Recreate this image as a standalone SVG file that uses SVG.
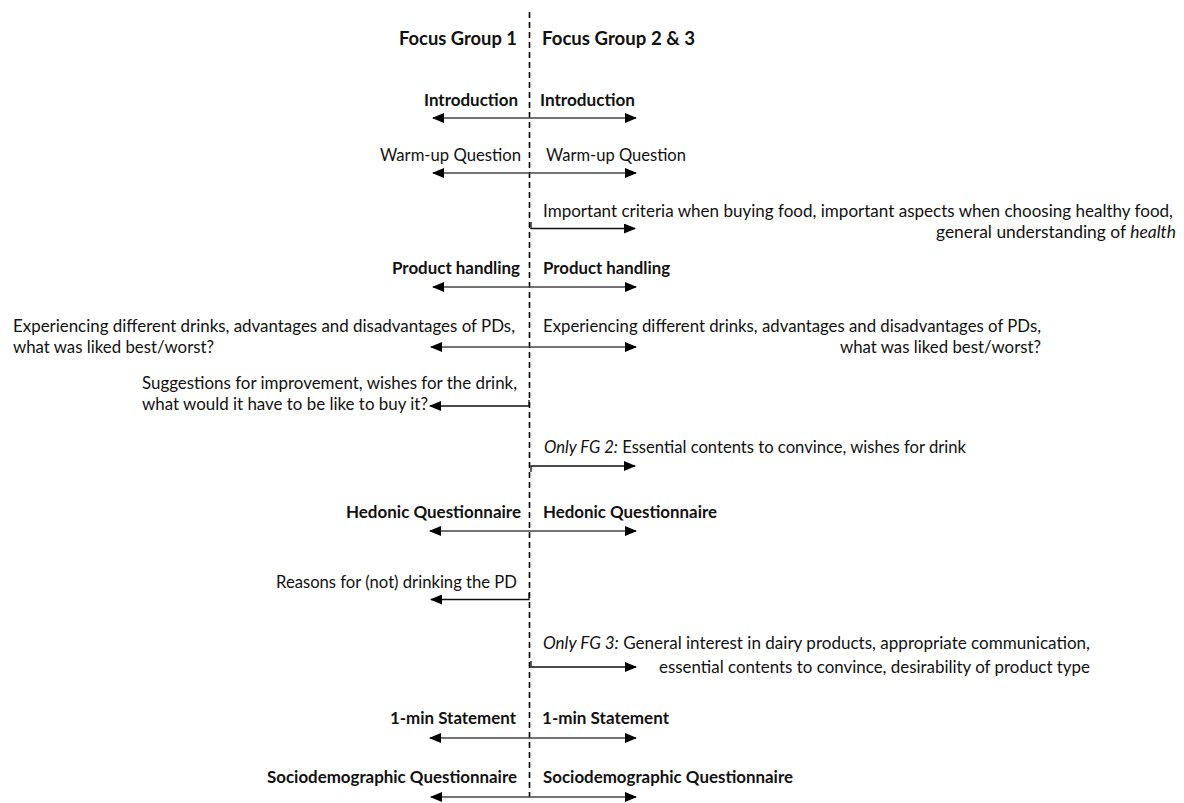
<svg xmlns="http://www.w3.org/2000/svg" width="1184" height="803" viewBox="0 0 1184 803">
<defs>
<marker id="ah" viewBox="0 0 12 10" refX="11" refY="5" markerWidth="12" markerHeight="10" markerUnits="userSpaceOnUse" orient="auto-start-reverse">
<path d="M0,0 L12,5 L0,10 Z" fill="#000"/>
</marker>
<style>
text{font-family:Lato,"Open Sans","Liberation Sans",sans-serif;font-size:17px;fill:#111}
.h{font-size:18.5px}
.b{font-weight:bold}
.i{font-style:italic}
.dbl{stroke:#444;stroke-width:1.6;fill:none;marker-start:url(#ah);marker-end:url(#ah)}
.one{stroke:#111;stroke-width:1.3;fill:none;marker-end:url(#ah)}
.axis{stroke:#000;stroke-width:1.6;stroke-dasharray:6 4;fill:none}
</style>
</defs>
<rect width="1184" height="803" fill="#fff"/>
<line id="divider" class="axis" x1="529.5" y1="12" x2="529.5" y2="797"/>
<g id="connectors">
<line class="dbl" x1="433" y1="118" x2="636" y2="118"/>
<line class="dbl" x1="433" y1="173" x2="636" y2="173"/>
<path class="one" d="M531,222 V228.5 H635"/>
<line class="dbl" x1="433" y1="287" x2="636" y2="287"/>
<line class="dbl" x1="431" y1="347" x2="636" y2="347"/>
<path class="one" d="M529,400 V406 H430"/>
<path class="one" d="M531,472 V466 H635"/>
<line class="dbl" x1="430" y1="531" x2="636" y2="531"/>
<path class="one" d="M529,593 V599.5 H431"/>
<path class="one" d="M531,661 V667 H636"/>
<line class="dbl" x1="430" y1="738" x2="636" y2="738"/>
<line class="dbl" x1="431" y1="797" x2="636" y2="797"/>
</g>
<g id="header">
<text class="b h" x="399" y="45" textLength="118" lengthAdjust="spacingAndGlyphs">Focus Group 1</text>
<text class="b h" x="542" y="45" textLength="153" lengthAdjust="spacingAndGlyphs">Focus Group 2 &amp; 3</text>
</g>
<g id="introduction">
<text class="b" x="424" y="106" textLength="94" lengthAdjust="spacingAndGlyphs">Introduction</text>
<text class="b" x="540" y="106" textLength="95" lengthAdjust="spacingAndGlyphs">Introduction</text>
</g>
<g id="warmup">
<text x="380" y="161" textLength="141" lengthAdjust="spacingAndGlyphs">Warm-up Question</text>
<text x="546" y="161" textLength="140" lengthAdjust="spacingAndGlyphs">Warm-up Question</text>
</g>
<g id="criteria">
<text x="543" y="217" textLength="630" lengthAdjust="spacingAndGlyphs">Important criteria when buying food, important aspects when choosing healthy food,</text>
<text x="936" y="238" textLength="240" lengthAdjust="spacingAndGlyphs">general understanding of <tspan class="i">health</tspan></text>
</g>
<g id="product-handling">
<text class="b" x="392" y="274" textLength="128" lengthAdjust="spacingAndGlyphs">Product handling</text>
<text class="b" x="543" y="274" textLength="127" lengthAdjust="spacingAndGlyphs">Product handling</text>
</g>
<g id="experiencing-left">
<text x="13" y="332" textLength="502" lengthAdjust="spacingAndGlyphs">Experiencing different drinks, advantages and disadvantages of PDs,</text>
<text x="13" y="353" textLength="201" lengthAdjust="spacingAndGlyphs">what was liked best/worst?</text>
</g>
<g id="experiencing-right">
<text x="543" y="332" textLength="498" lengthAdjust="spacingAndGlyphs">Experiencing different drinks, advantages and disadvantages of PDs,</text>
<text x="840" y="353" textLength="201" lengthAdjust="spacingAndGlyphs">what was liked best/worst?</text>
</g>
<g id="suggestions">
<text x="142" y="389" textLength="375" lengthAdjust="spacingAndGlyphs">Suggestions for improvement, wishes for the drink,</text>
<text x="142" y="410" textLength="286" lengthAdjust="spacingAndGlyphs">what would it have to be like to buy it?</text>
</g>
<g id="fg2">
<text x="544" y="453" textLength="422" lengthAdjust="spacingAndGlyphs"><tspan class="i">Only FG 2:</tspan> Essential contents to convince, wishes for drink</text>
</g>
<g id="hedonic">
<text class="b" x="346" y="518" textLength="175" lengthAdjust="spacingAndGlyphs">Hedonic Questionnaire</text>
<text class="b" x="543" y="518" textLength="174" lengthAdjust="spacingAndGlyphs">Hedonic Questionnaire</text>
</g>
<g id="reasons">
<text x="276" y="588" textLength="241" lengthAdjust="spacingAndGlyphs">Reasons for (not) drinking the PD</text>
</g>
<g id="fg3">
<text x="543" y="649" textLength="547" lengthAdjust="spacingAndGlyphs"><tspan class="i">Only FG 3:</tspan> General interest in dairy products, appropriate communication,</text>
<text x="659" y="673" textLength="431" lengthAdjust="spacingAndGlyphs">essential contents to convince, desirability of product type</text>
</g>
<g id="statement">
<text class="b" x="390" y="724" textLength="126" lengthAdjust="spacingAndGlyphs">1-min Statement</text>
<text class="b" x="542" y="724" textLength="127" lengthAdjust="spacingAndGlyphs">1-min Statement</text>
</g>
<g id="sociodemographic">
<text class="b" x="267" y="783" textLength="250" lengthAdjust="spacingAndGlyphs">Sociodemographic Questionnaire</text>
<text class="b" x="543" y="783" textLength="250" lengthAdjust="spacingAndGlyphs">Sociodemographic Questionnaire</text>
</g>
</svg>
